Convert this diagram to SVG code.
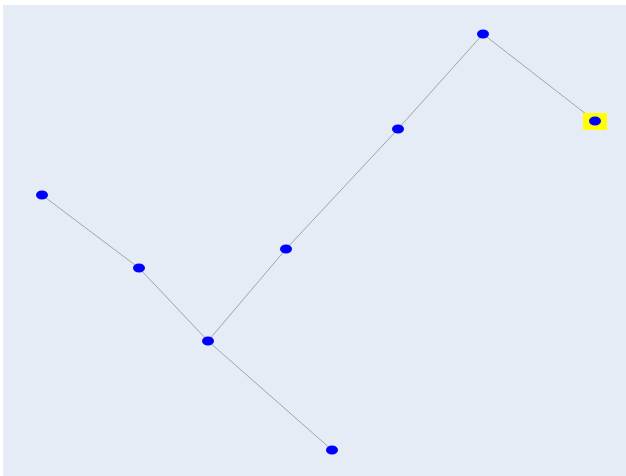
<svg xmlns="http://www.w3.org/2000/svg" width="626" height="476" viewBox="0 0 626 476">
<style>
.edge{stroke:#a0a4ab;stroke-width:1;fill:none}
.node{fill:#0000ff}
</style>
<rect x="0" y="0" width="626" height="476" fill="#ffffff"/>
<rect x="3" y="5" width="623" height="471" fill="#e5ecf6"/>
<g id="connectors">
<line class="edge" x1="42" y1="195" x2="139" y2="268"/>
<line class="edge" x1="139" y1="268" x2="208" y2="341"/>
<line class="edge" x1="208" y1="341" x2="332" y2="450"/>
<line class="edge" x1="208" y1="341" x2="286" y2="249"/>
<line class="edge" x1="286" y1="249" x2="398" y2="129"/>
<line class="edge" x1="398" y1="129" x2="483" y2="34"/>
<line class="edge" x1="483" y1="34" x2="595" y2="121"/>
</g>
<g id="n1"><ellipse class="node" cx="42" cy="195" rx="6" ry="4.5"/></g>
<g id="n2"><ellipse class="node" cx="139" cy="268" rx="6" ry="4.5"/></g>
<g id="n3"><ellipse class="node" cx="208" cy="341" rx="6" ry="4.5"/></g>
<g id="n4"><ellipse class="node" cx="332" cy="450" rx="6" ry="4.5"/></g>
<g id="n5"><ellipse class="node" cx="286" cy="249" rx="6" ry="4.5"/></g>
<g id="n6"><ellipse class="node" cx="398" cy="129" rx="6" ry="4.5"/></g>
<g id="n7"><ellipse class="node" cx="483" cy="34" rx="6" ry="4.5"/></g>
<g id="n8"><rect x="583" y="113" width="24" height="17" fill="#ffff00"/><ellipse class="node" cx="595" cy="121" rx="6" ry="4.5"/></g>
</svg>
